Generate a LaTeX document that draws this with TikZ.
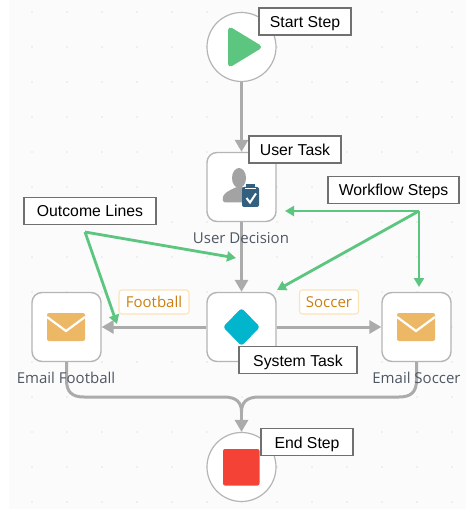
\documentclass[tikz,border=0pt]{standalone}
\usepackage{fontspec}
\setmainfont{Liberation Sans}
\newfontfamily\opensans{Open Sans}
\usetikzlibrary{arrows.meta}
\definecolor{cvs}{HTML}{FBFBFB}
\definecolor{griddot}{HTML}{C9C9C9}
\definecolor{edgegray}{HTML}{ABABAB}
\definecolor{nodeborder}{HTML}{B5B5B5}
\definecolor{callout}{HTML}{707070}
\definecolor{greenline}{HTML}{5CC57F}
\definecolor{lbltext}{HTML}{4F5763}
\definecolor{orangetext}{HTML}{CC7F10}
\definecolor{orangeborder}{HTML}{FDE3B8}
\definecolor{envcol}{HTML}{ECB866}
\definecolor{teal}{HTML}{00B5CC}
\definecolor{stopred}{HTML}{F44336}
\definecolor{persongray}{HTML}{A3A3A3}
\definecolor{clipblue}{HTML}{34607F}
\tikzset{
  x=1pt,y=-1pt,
  stepcircle/.style={circle,draw=nodeborder,line width=1.2pt,fill=white,minimum size=69pt,inner sep=0pt},
  taskbox/.style={rectangle,rounded corners=10pt,draw=nodeborder,line width=1.4pt,fill=white,minimum size=69pt,inner sep=0pt},
  flow/.style={draw=edgegray,line width=3pt,-{Triangle[length=12pt,width=13pt]}},
  flowplain/.style={draw=edgegray,line width=3pt},
  note/.style={draw=callout,line width=1.4pt,fill=white,text=black,font=\fontsize{15.8}{18}\selectfont,inner sep=0pt,minimum height=27pt,text height=13pt,text depth=1pt},
  greenarrow/.style={draw=greenline,line width=2.8pt,-{Triangle[length=9pt,width=10pt]}},
  steplabel/.style={text=lbltext,font=\opensans\fontsize{15}{17}\selectfont,inner sep=0pt},
  outcome/.style={draw=orangeborder,line width=1.1pt,rounded corners=3pt,fill=white,text=orangetext,font=\opensans\fontsize{15}{17}\selectfont,inner sep=0pt,minimum height=24pt},
  envelope/.pic={
    \fill[envcol,rounded corners=2pt] (-19,-14) rectangle (19,14);
    \draw[white,line width=2.2pt] (-19,-10) -- (0,4) -- (19,-10);
  }
}
\begin{document}
\begin{tikzpicture}
\useasboundingbox (0,0) rectangle (475,518);
\fill[cvs] (9,0) rectangle (466,509);
\foreach \gx in {32,67,...,452}
  \foreach \gy in {12,47,...,502}
    \fill[griddot] (\gx,\gy) circle (0.6pt);
% step nodes
\node[stepcircle] (start) at (241.5,47) {};
\node[taskbox] (task) at (241.5,187) {};
\node[taskbox] (sys) at (241.5,327) {};
\node[taskbox] (football) at (66.5,327) {};
\node[taskbox] (soccer) at (416.5,327) {};
\node[stepcircle] (end) at (241.5,467) {};
\coordinate (merge) at (241.5,412);
% connectors
\draw[flow] (start.south) -- (task.north);
\draw[flow] (task.south) -- (sys.north);
\draw[flow] (sys.west) -- (football.east);
\draw[flow] (sys.east) -- (soccer.west);
\draw[flowplain] (football.south) -- (66.5,380) .. controls (66.5,392) and (72,397) .. (84,397) -- (224,397) .. controls (236,397) and (241.5,402) .. (merge);
\draw[flowplain] (soccer.south) -- (416.5,380) .. controls (416.5,392) and (411,397) .. (399,397) -- (259,397) .. controls (247,397) and (241.5,402) .. (merge);
\draw[flow] (merge) -- (end.north);
% icons
\fill[greenline,draw=greenline,line width=5pt,line join=round] (230.5,30) -- (230.5,64) -- (258.5,47) -- cycle;
\fill[persongray] (239,178) ellipse (7pt and 10pt);
\fill[persongray,rounded corners=2.5pt] (223,202.5) .. controls (222,193) and (229,191) .. (236,187) -- (243,187) -- (250,190) -- (250,202.5) -- cycle;
\fill[clipblue,rounded corners=2pt] (242,187) rectangle (259,207);
\fill[clipblue] (246,184) rectangle (255,189);
\draw[white,line width=0.8pt] (245,188.5) -- (256,188.5);
\draw[white,line width=2pt] (246.5,198) -- (250,202.5) -- (256,193.5);
\fill[teal,rounded corners=3pt] (241.5,308) -- (260,327) -- (241.5,346) -- (223,327) -- cycle;
\pic at (66,327) {envelope};
\pic at (416,327) {envelope};
\fill[stopred,rounded corners=2pt] (223,449) rectangle (259.5,485.5);
% texts on the canvas
\node[steplabel] (tasklbl) at (241,238) {User Decision};
\node[steplabel] (footballlbl) at (66,378) {Email Football};
\node[steplabel] (soccerlbl) at (416.5,378) {Email Soccer};
\node[outcome,minimum width=70pt] (footballtag) at (154,302) {Football};
\node[outcome,minimum width=59pt] (soccertag) at (329,302) {Soccer};
% callouts
\node[note,minimum width=92pt] (nstart) at (305,21.5) {Start Step};
\node[note,minimum width=92pt] (ntask) at (295,149.5) {User Task};
\node[note,minimum width=131pt] (nflow) at (393.5,190) {Workflow Steps};
\node[note,minimum width=132pt] (noutcome) at (90,211) {Outcome Lines};
\node[note,minimum width=118pt] (nsys) at (298,360) {System Task};
\node[note,minimum width=92pt] (nend) at (307,442) {End Step};
% green pointers
\coordinate (og) at (85,232);
\coordinate (wf) at (419,211);
\coordinate (oga) at (236,258);
\coordinate (ogb) at (117,324);
\coordinate (wfa) at (285,211);
\coordinate (wfb) at (277,290);
\coordinate (wfc) at (419,287);
\draw[greenarrow] (og) -- (oga);
\draw[greenarrow] (og) -- (ogb);
\draw[greenarrow] (wf) -- (wfa);
\draw[greenarrow] (wf) -- (wfb);
\draw[greenarrow] (wf) -- (wfc);
\end{tikzpicture}
\end{document}
